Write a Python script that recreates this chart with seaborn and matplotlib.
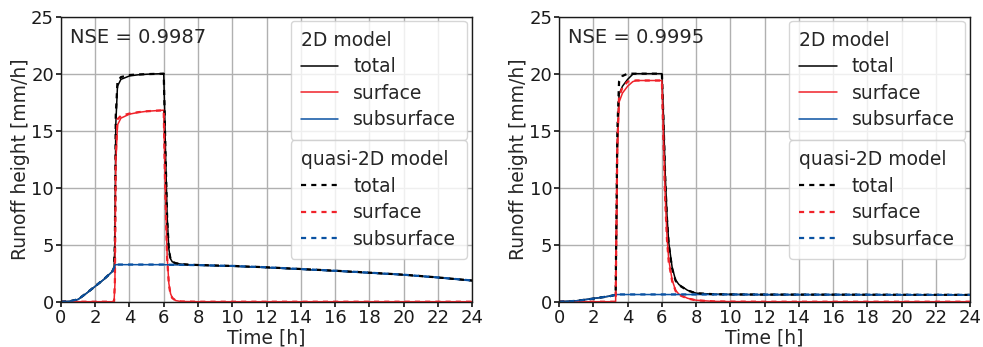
import numpy as np
import pandas as pd
import matplotlib
matplotlib.use("Agg")
import matplotlib.pyplot as plt
import seaborn as sns
from matplotlib.lines import Line2D

# ---- data (time in h, runoff in mm/h) ----
t_left = [0, 0.5, 1.0, 1.5, 2.0, 2.5, 3.0, 3.1, 3.15, 3.2, 3.3, 3.5, 4.0, 4.5, 5.0, 5.5, 6.0,
          6.05, 6.1, 6.2, 6.3, 6.4, 6.5, 6.7, 7.0, 7.5, 8.0, 10, 12, 14, 16, 18, 20, 22, 24]

# 2D model, left
tot2d_left = [0, 0.03, 0.2, 0.75, 1.35, 1.95, 2.65, 2.95, 5.0, 15.5, 18.9, 19.5, 19.8, 19.9, 19.95, 19.98, 20.0,
              17.0, 13.5, 7.5, 4.6, 3.75, 3.5, 3.38, 3.3, 3.24, 3.21, 3.12, 3.0, 2.85, 2.7, 2.53, 2.36, 2.12, 1.85]
surf2d_left = [0, 0, 0, 0, 0, 0, 0, 0, 1.5, 12.0, 15.5, 16.1, 16.45, 16.6, 16.7, 16.75, 16.8,
               13.0, 9.5, 4.0, 1.6, 0.7, 0.35, 0.1, 0.02, 0.01, 0, 0, 0, 0, 0, 0, 0, 0, 0]
sub2d_left = [0, 0.03, 0.2, 0.75, 1.35, 1.95, 2.65, 2.95, 3.2, 3.25, 3.25, 3.25, 3.25, 3.25, 3.25, 3.25, 3.25,
              3.25, 3.24, 3.24, 3.24, 3.23, 3.23, 3.23, 3.22, 3.21, 3.2, 3.12, 3.0, 2.85, 2.7, 2.53, 2.36, 2.12, 1.85]

# quasi-2D model, left
totq_left = [0, 0.03, 0.21, 0.76, 1.36, 1.96, 2.66, 2.97, 5.4, 16.3, 19.3, 19.7, 19.88, 19.93, 19.96, 19.98, 20.0,
             16.8, 13.2, 7.3, 4.5, 3.72, 3.5, 3.38, 3.3, 3.25, 3.22, 3.14, 3.02, 2.87, 2.72, 2.55, 2.37, 2.13, 1.86]
surfq_left = [0, 0, 0, 0, 0, 0, 0, 0, 1.8, 12.8, 16.0, 16.3, 16.5, 16.62, 16.7, 16.75, 16.78,
              12.5, 9.0, 3.8, 1.5, 0.65, 0.32, 0.1, 0.02, 0.01, 0, 0, 0, 0, 0, 0, 0, 0, 0]
subq_left = [0, 0.03, 0.21, 0.76, 1.36, 1.96, 2.66, 2.97, 3.22, 3.26, 3.26, 3.26, 3.26, 3.26, 3.26, 3.26, 3.26,
             3.26, 3.25, 3.25, 3.25, 3.24, 3.24, 3.24, 3.23, 3.22, 3.21, 3.14, 3.02, 2.87, 2.72, 2.55, 2.37, 2.13, 1.86]

t_right = [0, 1, 2, 3, 3.3, 3.35, 3.4, 3.5, 3.7, 4.0, 4.3, 4.5, 5.0, 5.5, 6.0,
           6.1, 6.2, 6.3, 6.4, 6.6, 6.8, 7.0, 7.5, 8.0, 9.0, 10, 12, 16, 20, 24]

# 2D model, right
tot2d_right = [0, 0.08, 0.28, 0.5, 0.6, 6.6, 13.6, 18.2, 18.9, 19.5, 19.95, 20.0, 20.0, 20.0, 20.0,
               16.0, 11.0, 7.5, 5.2, 3.0, 1.9, 1.5, 1.0, 0.75, 0.66, 0.64, 0.62, 0.62, 0.61, 0.6]
surf2d_right = [0, 0, 0, 0, 0, 6.0, 13.0, 17.5, 18.3, 18.9, 19.3, 19.4, 19.4, 19.4, 19.4,
                14.0, 9.0, 5.7, 3.7, 1.9, 1.0, 0.65, 0.3, 0.13, 0.03, 0.01, 0, 0, 0, 0]
sub2d_right = [0, 0.08, 0.28, 0.5, 0.6, 0.62, 0.63, 0.63, 0.63, 0.63, 0.63, 0.63, 0.63, 0.63, 0.63,
               0.63, 0.63, 0.63, 0.63, 0.63, 0.63, 0.63, 0.63, 0.63, 0.63, 0.63, 0.62, 0.62, 0.61, 0.6]

# quasi-2D model, right
totq_right = [0, 0.07, 0.27, 0.5, 0.61, 8.0, 15.0, 19.3, 19.8, 20.0, 20.0, 20.0, 20.0, 20.0, 20.0,
              15.6, 10.6, 7.2, 5.0, 2.9, 1.85, 1.45, 0.98, 0.74, 0.66, 0.64, 0.63, 0.62, 0.61, 0.6]
surfq_right = [0, 0, 0, 0, 0, 7.0, 14.0, 18.0, 18.8, 19.3, 19.4, 19.4, 19.4, 19.4, 19.4,
               13.6, 8.6, 5.4, 3.5, 1.8, 0.95, 0.6, 0.28, 0.12, 0.03, 0.01, 0, 0, 0, 0]
subq_right = [0, 0.07, 0.27, 0.5, 0.61, 0.63, 0.64, 0.64, 0.64, 0.64, 0.64, 0.64, 0.64, 0.64, 0.64,
              0.64, 0.64, 0.64, 0.64, 0.64, 0.64, 0.64, 0.64, 0.64, 0.64, 0.64, 0.63, 0.62, 0.61, 0.6]

nse_values = ["0.9987", "0.9995"]
components = ["total", "surface", "subsurface"]

# ---- style ----
sns.set_theme(style="whitegrid", rc={
    "axes.edgecolor": "0.1",
    "axes.linewidth": 1.0,
    "grid.color": "#b0b0b0",
    "grid.linewidth": 1.0,
    "xtick.bottom": True,
    "ytick.left": True,
    "xtick.major.size": 3.5,
    "ytick.major.size": 3.5,
    "xtick.color": "0.1",
    "ytick.color": "0.1",
    "xtick.major.pad": 1.5,
    "ytick.major.pad": 1.5,
})
plt.rcParams["font.family"] = ["DejaVu Sans"]

colors = {"total": "black", "surface": "#f0222a", "subsurface": "#0a52a3"}
solid_lw = 1.1
dash_lw = 1.6
dash_style = (0, (2.3, 2.3))

fig, axes = plt.subplots(1, 2, figsize=(9.83, 3.47), dpi=100)
fig.subplots_adjust(left=0.062, right=0.987, bottom=0.1305, top=0.952, wspace=0.2117)

panels = [
    (t_left, [tot2d_left, surf2d_left, sub2d_left], [totq_left, surfq_left, subq_left]),
    (t_right, [tot2d_right, surf2d_right, sub2d_right], [totq_right, surfq_right, subq_right]),
]

leg_kw = dict(loc="upper right", borderaxespad=0, fontsize=13.5, title_fontsize=13.5,
              alignment="left", borderpad=0.55, labelspacing=0.4)

for ax, (t, two_d, quasi), nse in zip(axes, panels, nse_values):
    for comp, vals in zip(components, two_d):
        sns.lineplot(x=t, y=vals, ax=ax, color=colors[comp], lw=solid_lw)
    for comp, vals in zip(components, quasi):
        sns.lineplot(x=t, y=vals, ax=ax, color=colors[comp], lw=dash_lw, linestyle=dash_style)

    ax.set_xlim(0, 24)
    ax.set_ylim(0, 25)
    ax.set_xticks(np.arange(0, 25, 2))
    ax.set_yticks(np.arange(0, 26, 5))
    ax.tick_params(labelsize=13)
    ax.set_xlabel("Time [h]", fontsize=13.5, labelpad=1)
    ax.set_ylabel("Runoff height [mm/h]", fontsize=13.5, labelpad=0.5)

    ax.text(0.022, 0.96, "NSE = " + nse, transform=ax.transAxes, fontsize=14,
            ha="left", va="top")

    # two legends: 2D model (solid) and quasi-2D model (dashed)
    h2d = [Line2D([], [], color=colors[c], lw=solid_lw) for c in components]
    hq = [Line2D([], [], color=colors[c], lw=dash_lw, linestyle=dash_style) for c in components]
    leg1 = ax.legend(h2d, components, title="2D model", bbox_to_anchor=(0.987, 0.986), **leg_kw)
    ax.add_artist(leg1)
    ax.legend(hq, components, title="quasi-2D model", bbox_to_anchor=(0.987, 0.567), **leg_kw)

plt.savefig("out.png", dpi=100)
